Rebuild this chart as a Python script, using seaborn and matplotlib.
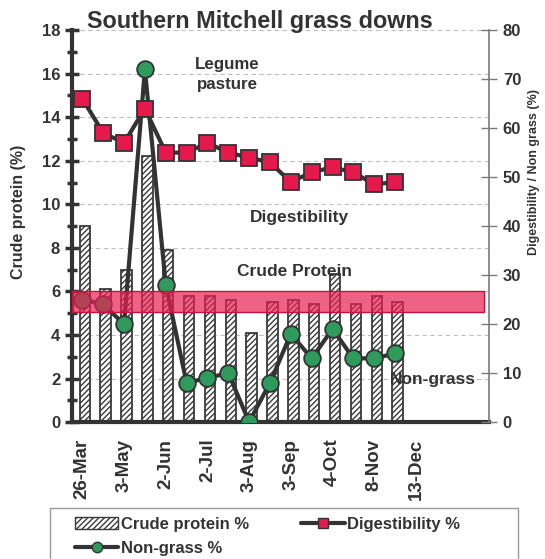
import numpy as np
import pandas as pd
import matplotlib
matplotlib.use("Agg")
import matplotlib.pyplot as plt
from matplotlib.lines import Line2D
from matplotlib.patches import Patch, Rectangle
import seaborn as sns

# ---- data -------------------------------------------------------------
tick_labels = ["26-Mar", "", "3-May", "", "2-Jun", "", "2-Jul", "", "3-Aug", "",
               "3-Sep", "", "4-Oct", "", "8-Nov", "", "13-Dec", "", "", ""]
crude_protein = [9.0, 6.1, 7.0, 12.2, 7.9, 5.8, 5.8, 5.6, 4.1, 5.5,
                 5.6, 5.4, 6.8, 5.4, 5.8, 5.5]
digestibility = [66, 59, 57, 64, 55, 55, 57, 55, 54, 53,
                 49, 51, 52, 51, 48.5, 49]
non_grass = [25, 24, 20, 72, 28, 8, 9, 10, 0, 8,
             18, 13, 19, 13, 13, 14]
cp_requirement = (5.05, 6.0)   # crude protein maintenance range, %

df = pd.DataFrame({
    "sample": np.arange(len(crude_protein)),
    "crude_protein": crude_protein,
    "digestibility": digestibility,
    "non_grass": non_grass,
})

# ---- style ------------------------------------------------------------
sns.set_style("white")
plt.rcParams["font.family"] = ["Liberation Sans", "DejaVu Sans"]
plt.rcParams["hatch.linewidth"] = 1.0

DARK = "#333333"
GREY = "#7a7a7a"
RED = "#E5194B"
GREEN = "#2E9A5C"

fig = plt.figure(figsize=(5.45, 5.59), dpi=100)
ax = fig.add_axes([0.132, 0.245, 0.765, 0.701])
ax2 = ax.twinx()

# ---- crude protein bars (left axis) ------------------------------------
sns.barplot(x=df["sample"] + 0.12, y=df["crude_protein"], ax=ax,
            native_scale=True, width=0.5, color="white",
            edgecolor="#3a3a3a", linewidth=1.3, hatch="//////",
            saturation=1, zorder=2)

ax.set_xlim(-0.5, len(tick_labels) - 0.5)
ax.set_ylim(0, 18)
ax.set_yticks(np.arange(0, 19, 2))
ax.set_yticks(np.arange(0, 19, 1), minor=True)
ax.yaxis.grid(True, which="major", linestyle=(0, (4, 3)), color="#bdbdbd",
              linewidth=0.8)
ax.set_axisbelow(True)

# category boundaries as minor ticks, labels on the category centres
ax.set_xticks(np.arange(len(tick_labels)))
ax.set_xticklabels(tick_labels, rotation=90, fontsize=13.5, fontweight="bold",
                   color=DARK)
ax.set_xticks(np.arange(-0.5, len(tick_labels)), minor=True)
ax.tick_params(axis="x", which="major", length=0, pad=12)
ax.tick_params(axis="x", which="minor", length=6, width=2.5, direction="out",
               color=DARK)
ax.tick_params(axis="y", which="major", length=10, width=2.5,
               direction="inout", color=DARK, labelsize=12, labelcolor=DARK)
ax.tick_params(axis="y", which="minor", length=7, width=2.5,
               direction="inout", color=DARK)
for lab in ax.get_yticklabels():
    lab.set_fontweight("bold")

ax.set_xlabel("")
ax.set_ylabel("Crude protein (%)", fontsize=11.5, fontweight="bold",
              color=DARK)
ax.yaxis.set_label_coords(-0.110, 0.536)
for side in ("left", "bottom"):
    ax.spines[side].set_color(DARK)
    ax.spines[side].set_linewidth(3)
ax.spines["top"].set_visible(False)
ax.spines["right"].set_visible(False)

# ---- digestibility / non-grass lines (right axis) ----------------------
sns.lineplot(data=df, x="sample", y="non_grass", ax=ax2, sort=False,
             color=DARK, linewidth=3.0, marker="o", markersize=12,
             markerfacecolor=GREEN, markeredgecolor=DARK,
             markeredgewidth=1.3, zorder=3)
sns.lineplot(data=df, x="sample", y="digestibility", ax=ax2, sort=False,
             color=DARK, linewidth=3.0, marker="s", markersize=12,
             markerfacecolor=RED, markeredgecolor=DARK,
             markeredgewidth=1.3, zorder=4)

ax2.set_ylim(0, 80)
ax2.set_yticks(np.arange(0, 81, 10))
ax2.tick_params(axis="y", length=12, width=1, direction="inout", color=GREY,
                labelsize=12, labelcolor=DARK, pad=4)
for lab in ax2.get_yticklabels():
    lab.set_fontweight("bold")
ax2.set_xlabel("")
ax2.set_ylabel("Digestibility / Non grass (%)", fontsize=9,
               fontweight="bold", color=DARK)
ax2.yaxis.set_label_coords(1.094, 0.638)
for side in ("left", "top", "bottom"):
    ax2.spines[side].set_visible(False)
ax2.spines["right"].set_color(GREY)
ax2.spines["right"].set_linewidth(1.2)

# crude protein requirement band, expressed on the right-hand scale
scale = 80 / 18
ax2.axhspan(cp_requirement[0] * scale, cp_requirement[1] * scale,
            xmin=0, xmax=0.988, facecolor=(0.91, 0.12, 0.32, 0.70),
            edgecolor="#C8103C", linewidth=1.0, zorder=6)

# ---- annotations --------------------------------------------------------
txt = dict(fontweight="bold", color=DARK, ha="center", va="center",
           transform=ax.transData)
ax.text(6.95, 15.95, "Legume\npasture", linespacing=1.4, fontsize=12.2,
        multialignment="center", **txt)
ax.text(10.4, 9.4, "Digestibility", fontsize=12.5, **txt)
ax.text(10.2, 6.9, "Crude Protein", fontsize=12.5, **txt)
ax.text(16.8, 1.97, "Non-grass", fontsize=12.5, **txt)

fig.suptitle("Southern Mitchell grass downs", x=0.477, y=0.982,
             fontsize=16.8, fontweight="bold", color=DARK)

# ---- legend ---------------------------------------------------------------
handles = [
    Patch(facecolor="white", edgecolor="#3a3a3a", hatch="//////",
          label="Crude protein %"),
    Line2D([], [], color=DARK, linewidth=3.0, marker="o", markersize=7.5,
           markerfacecolor=GREEN, markeredgecolor=DARK,
           label="Non-grass %"),
    Line2D([], [], color=DARK, linewidth=3.0, marker="s", markersize=7.5,
           markerfacecolor=RED, markeredgecolor=DARK,
           label="Digestibility %"),
]
leg = fig.legend(handles=handles, loc="upper left", ncol=2,
                 bbox_to_anchor=(75 / 545, 1 - 517 / 559),
                 borderaxespad=0, borderpad=0, frameon=False,
                 handlelength=2.6, handletextpad=0.15, columnspacing=3.15,
                 labelspacing=0.55, prop={"size": 12, "weight": "bold"})
for t in leg.get_texts():
    t.set_color(DARK)

# legend box, running off the bottom edge of the figure
fig.add_artist(Rectangle((50 / 545, -0.02), 468 / 545, 0.02 + 51 / 559,
                         transform=fig.transFigure, fill=False,
                         edgecolor="#9a9a9a", linewidth=1.0, clip_on=False))

fig.savefig("out.png", dpi=100)
